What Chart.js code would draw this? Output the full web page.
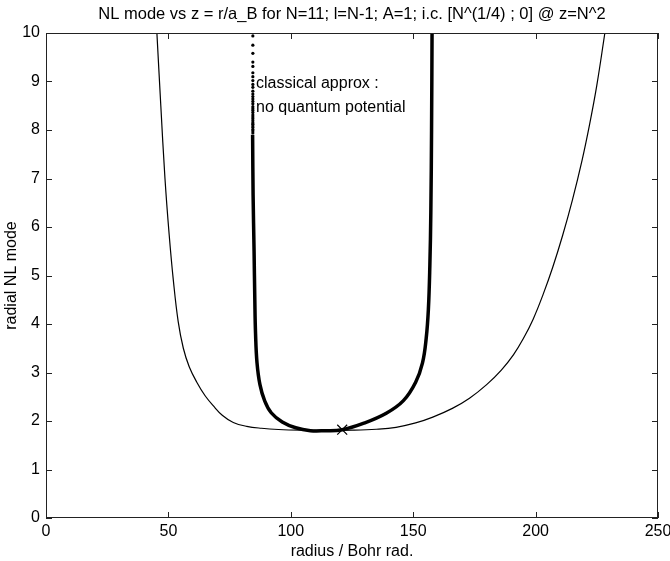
<!DOCTYPE html>
<html>
<head>
<meta charset="utf-8">
<script src="https://cdn.jsdelivr.net/npm/chart.js@4/dist/chart.umd.min.js"></script>
<style>
  html, body { margin: 0; padding: 0; background: #fff; }
  #wrap { width: 670px; height: 561px; }
</style>
</head>
<body>
<div id="wrap"><canvas id="nlChart"></canvas></div>
<script>
// thin curve (quantum NL mode)
const thinX = [45.3, 46.9, 48.6, 50.3, 52, 54, 56.1, 58.5, 61.6, 65, 68.4, 72, 76.5, 82, 88, 95, 105, 115, 125, 135, 143, 151, 158, 166, 173, 180, 186, 191, 195, 199, 203, 207, 211, 215, 219, 222, 225, 228.3];
const thinY = [10, 8.5, 7.0, 5.85, 4.91, 4.05, 3.5, 3.12, 2.80, 2.52, 2.31, 2.12, 1.97, 1.89, 1.85, 1.825, 1.81, 1.805, 1.81, 1.83, 1.87, 1.96, 2.08, 2.26, 2.47, 2.75, 3.05, 3.37, 3.7, 4.1, 4.6, 5.17, 5.82, 6.55, 7.38, 8.1, 8.92, 10];

// thick curve (classical approx), solid part
const thickX = [84.4, 84.6, 85, 85.3, 85.6, 86.2, 87.4, 89.3, 92, 96.5, 102, 108, 114, 121, 129.6, 139, 146, 151, 153.8, 155.3, 156.2, 156.8, 157.2, 157.5, 157.7];
const thickY = [7.9, 6.66, 5.5, 4.5, 3.8, 3.2, 2.75, 2.42, 2.17, 1.98, 1.86, 1.80, 1.80, 1.82, 1.95, 2.16, 2.42, 2.8, 3.2, 3.7, 4.3, 5.2, 6.3, 8, 10];

// thick curve, sparse solver steps near the top of the left branch
const dotX = 84.5;
const dotY = [9.94, 9.75, 9.58, 9.40, 9.31, 9.18, 9.10, 9.02, 8.94, 8.88, 8.80, 8.74, 8.69, 8.64, 8.59, 8.54, 8.48, 8.44, 8.40, 8.36, 8.31, 8.27, 8.23, 8.19, 8.15, 8.12, 8.08, 8.05, 8.01, 7.98, 7.94];

// initial condition marker: z = N^2, N^(1/4)
const markX = [121];
const markY = [1.821];

const xTicks = [0, 50, 100, 150, 200, 250];
const yTicks = [0, 1, 2, 3, 4, 5, 6, 7, 8, 9, 10];

const FONT = "'Liberation Sans', Arial, Helvetica, sans-serif";

function pts(xs, ys) {
  return xs.map((x, i) => ({ x: x, y: ys[i] }));
}

// box, inward ticks, title and annotation (MATLAB look)
const matlabFrame = {
  id: "matlabFrame",
  afterDraw(chart) {
    const { ctx, chartArea: a, scales } = chart;
    const tl = 6;
    ctx.save();
    ctx.strokeStyle = "#222";
    ctx.lineWidth = 1;
    ctx.strokeRect(a.left + 0.5, a.top + 0.5, a.right - a.left - 1, a.bottom - a.top - 1);
    ctx.beginPath();
    xTicks.forEach((v) => {
      const px = Math.round(scales.x.getPixelForValue(v)) + 0.5;
      ctx.moveTo(px, a.bottom); ctx.lineTo(px, a.bottom - tl);
      ctx.moveTo(px, a.top); ctx.lineTo(px, a.top + tl);
    });
    yTicks.forEach((v) => {
      const py = Math.round(scales.y.getPixelForValue(v)) + 0.5;
      ctx.moveTo(a.left, py); ctx.lineTo(a.left + tl, py);
      ctx.moveTo(a.right, py); ctx.lineTo(a.right - tl, py);
    });
    ctx.stroke();

    ctx.fillStyle = "#000";
    ctx.font = "16.5px " + FONT;
    ctx.textAlign = "center";
    ctx.textBaseline = "middle";
    ctx.fillText("NL mode vs z = r/a_B for N=11; l=N-1; A=1; i.c. [N^(1/4) ; 0] @ z=N^2", (a.left + a.right) / 2, 14);

    ctx.font = "16px " + FONT;
    ctx.textAlign = "left";
    const tx = scales.x.getPixelForValue(85.8);
    ctx.fillText("classical approx :", tx, scales.y.getPixelForValue(8.95));
    ctx.fillText("no quantum potential", tx, scales.y.getPixelForValue(8.47));
    ctx.restore();
  }
};

const ctx = document.getElementById("nlChart").getContext("2d");
new Chart(ctx, {
  type: "scatter",
  data: {
    datasets: [
      {
        data: pts(thinX, thinY),
        showLine: true,
        borderColor: "#000",
        borderWidth: 1.2,
        pointRadius: 0,
        tension: 0.4
      },
      {
        data: pts(thickX, thickY),
        showLine: true,
        borderColor: "#000",
        borderWidth: 3.5,
        pointRadius: 0,
        tension: 0.4
      },
      {
        data: dotY.map((y) => ({ x: dotX, y: y })),
        showLine: false,
        pointRadius: 1.6,
        pointBackgroundColor: "#000",
        pointBorderWidth: 0
      },
      {
        data: pts(markX, markY),
        showLine: false,
        pointStyle: "crossRot",
        pointRadius: 7,
        pointBorderColor: "#000",
        pointBorderWidth: 1.2
      }
    ]
  },
  options: {
    responsive: true,
    maintainAspectRatio: false,
    animation: false,
    events: [],
    layout: { padding: { top: 33, right: 12, left: 0, bottom: 0 } },
    plugins: {
      legend: { display: false },
      tooltip: { enabled: false },
      title: { display: false }
    },
    scales: {
      x: {
        type: "linear",
        min: 0,
        max: 250,
        afterFit: (s) => { s.height = 43; s.paddingLeft = 0; s.paddingRight = 0; },
        afterBuildTicks: (s) => { s.ticks = xTicks.map((v) => ({ value: v })); },
        grid: { display: false, drawTicks: false },
        border: { display: false },
        ticks: { color: "#000", padding: 4, font: { family: FONT, size: 16 } },
        title: {
          display: true,
          text: "radius / Bohr rad.",
          color: "#000",
          padding: { top: 0, bottom: 0 },
          font: { family: FONT, size: 16 }
        }
      },
      y: {
        type: "linear",
        min: 0,
        max: 10,
        afterFit: (s) => { s.width = 46; s.paddingTop = 0; s.paddingBottom = 0; },
        afterBuildTicks: (s) => { s.ticks = yTicks.map((v) => ({ value: v })); },
        grid: { display: false, drawTicks: false },
        border: { display: false },
        ticks: { color: "#000", padding: 6, font: { family: FONT, size: 16 } },
        title: {
          display: true,
          text: "radial NL mode",
          color: "#000",
          padding: { top: 2, bottom: 0 },
          font: { family: FONT, size: 16 }
        }
      }
    }
  },
  plugins: [matlabFrame]
});
</script>
</body>
</html>
